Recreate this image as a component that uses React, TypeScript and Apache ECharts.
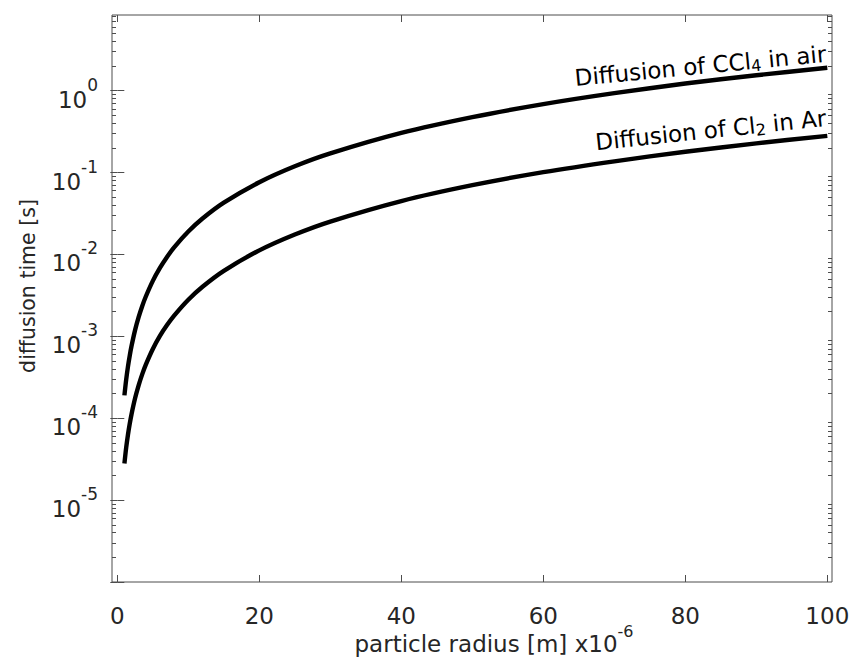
import React, { useEffect, useRef } from "react";
import * as echarts from "echarts";

// particle radius (x10^-6 m)
const radius = [1, 1.25, 1.5, 1.75, 2, 2.5, 3, 3.5, 4, 5, 6, 7, 8, 10, 12, 15, 20, 25, 30, 40, 50, 60, 70, 80, 90, 100];
// diffusion time [s]
const ccl4InAir = [1.9e-4, 2.97e-4, 4.28e-4, 5.82e-4, 7.6e-4, 1.19e-3, 1.71e-3, 2.33e-3, 3.04e-3, 4.75e-3, 6.84e-3, 9.31e-3, 1.22e-2, 1.9e-2, 2.74e-2, 4.28e-2, 7.6e-2, 0.119, 0.171, 0.304, 0.475, 0.684, 0.931, 1.22, 1.54, 1.9];
const cl2InAr = [2.8e-5, 4.38e-5, 6.3e-5, 8.58e-5, 1.12e-4, 1.75e-4, 2.52e-4, 3.43e-4, 4.48e-4, 7.0e-4, 1.01e-3, 1.37e-3, 1.79e-3, 2.8e-3, 4.03e-3, 6.3e-3, 1.12e-2, 1.75e-2, 2.52e-2, 4.48e-2, 7.0e-2, 0.101, 0.137, 0.179, 0.227, 0.28];

const xTicks = [0, 20, 40, 60, 80, 100];
const yMajorTicks = [1e-6, 1e-5, 1e-4, 1e-3, 1e-2, 1e-1, 1];
const yLabelTicks = [1e-5, 1e-4, 1e-3, 1e-2, 1e-1, 1];
const minorMultipliers = [2, 3, 4, 5, 6, 7, 8, 9];

const xTitleMain = "particle radius [m] x10";
const xTitleExp = "-6";

const X_MIN = -0.75;
const X_MAX = 100.66;
const Y_MIN = 1e-6;
const Y_MAX = 8.38;

const FONT = "DejaVu Sans, Liberation Sans, Arial, sans-serif";
const AXIS_COLOR = "#4d4d4d";
const TEXT_COLOR = "#262626";

function measure(text: string, size: number): number {
  const c = document.createElement("canvas").getContext("2d");
  if (!c) return text.length * size * 0.6;
  c.font = `${size}px "DejaVu Sans"`;
  return c.measureText(text).width;
}

export default function App() {
  const ref = useRef<HTMLDivElement>(null);
  useEffect(() => {
    if (!ref.current) return;
    const chart = echarts.init(ref.current, null, { renderer: "svg" });

    const yMinorTicks: number[] = [];
    yMajorTicks.forEach((d) => {
      minorMultipliers.forEach((m) => {
        const v = d * m;
        if (v > Y_MIN && v < Y_MAX) yMinorTicks.push(v);
      });
    });

    const tickLine = { color: AXIS_COLOR, width: 1 };

    const hiddenX = (position: string, ticks: number[]) => ({
      type: "value",
      position,
      min: X_MIN,
      max: X_MAX,
      axisLine: { show: false },
      splitLine: { show: false },
      axisLabel: { show: false },
      axisTick: { show: true, inside: true, length: 7, customValues: ticks, lineStyle: tickLine },
    });
    const hiddenY = (position: string, ticks: number[], len: number) => ({
      type: "log",
      position,
      min: Y_MIN,
      max: Y_MAX,
      axisLine: { show: false },
      splitLine: { show: false },
      axisLabel: { show: false },
      axisTick: { show: true, inside: true, length: len, customValues: ticks, lineStyle: tickLine },
    });

    const option: any = {
      animation: false,
      backgroundColor: "#ffffff",
      grid: {
        left: 112,
        top: 15,
        right: 18,
        bottom: 78,
        containLabel: false,
        outerBoundsMode: "none",
        show: true,
        borderColor: AXIS_COLOR,
        borderWidth: 1,
        backgroundColor: "transparent",
      },
      xAxis: [
        {
          type: "value",
          position: "bottom",
          min: X_MIN,
          max: X_MAX,
          axisLine: { show: false },
          axisTick: { show: true, inside: true, length: 7, customValues: xTicks, lineStyle: tickLine },
          splitLine: { show: false },
          axisLabel: {
            customValues: xTicks,
            margin: 22,
            color: TEXT_COLOR,
            fontSize: 23,
            fontFamily: FONT,
          },
        },
        hiddenX("top", xTicks),
      ],
      yAxis: [
        {
          type: "log",
          position: "left",
          min: Y_MIN,
          max: Y_MAX,
          axisLine: { show: false },
          axisTick: { show: true, inside: true, length: 7, customValues: yMajorTicks, lineStyle: tickLine },
          splitLine: { show: false },
          axisLabel: {
            customValues: yLabelTicks,
            margin: 14,
            color: TEXT_COLOR,
            fontFamily: FONT,
            formatter: (v: number) => {
              const e = Math.round(Math.log10(v));
              return "{b|10}{s|" + e + "}";
            },
            rich: {
              b: { fontSize: 23, fontFamily: FONT, color: TEXT_COLOR, lineHeight: 24, padding: [18, 0, 0, 0] },
              s: { fontSize: 17, fontFamily: FONT, color: TEXT_COLOR, lineHeight: 17, padding: [0, 0, 12, 0] },
            },
          },
          name: "diffusion time [s]",
          nameLocation: "middle",
          nameGap: 74,
          nameTextStyle: { color: TEXT_COLOR, fontFamily: FONT, fontSize: 20.5, padding: [0, 0, 0, 25] },
        },
        hiddenY("right", yMajorTicks, 7),
        hiddenY("left", yMinorTicks, 4),
        hiddenY("right", yMinorTicks, 4),
      ],
      series: [
        {
          name: "Diffusion of CCl4 in air",
          type: "line",
          xAxisIndex: 0,
          yAxisIndex: 0,
          data: radius.map((r, i) => [r, ccl4InAir[i]]),
          showSymbol: false,
          smooth: 0.3,
          lineStyle: { color: "#000000", width: 4.4, cap: "butt" },
          z: 3,
        },
        {
          name: "Diffusion of Cl2 in Ar",
          type: "line",
          xAxisIndex: 0,
          yAxisIndex: 0,
          data: radius.map((r, i) => [r, cl2InAr[i]]),
          showSymbol: false,
          smooth: 0.3,
          lineStyle: { color: "#000000", width: 4.4, cap: "butt" },
          z: 3,
        },
      ],
    };
    chart.setOption(option);

    const last = radius.length - 1;
    const p1 = chart.convertToPixel({ xAxisIndex: 0, yAxisIndex: 0 }, [radius[last], ccl4InAir[last]]) as number[];
    const p2 = chart.convertToPixel({ xAxisIndex: 0, yAxisIndex: 0 }, [radius[last], cl2InAr[last]]) as number[];
    const bottomLeft = chart.convertToPixel({ xAxisIndex: 0, yAxisIndex: 0 }, [(X_MIN + X_MAX) / 2, Y_MIN]) as number[];

    // x-axis title (main text + raised exponent)
    const wMain = measure(xTitleMain, 23);
    const wExp = measure(xTitleExp, 16);
    const titleCenterX = bottomLeft[0] + 22;
    const titleLeft = titleCenterX - (wMain + wExp) / 2;
    const titleMidY = bottomLeft[1] + 62;

    const annStyle = (txt: string) => ({
      text: txt,
      fontSize: 23,
      fontFamily: FONT,
      fill: "#000000",
      align: "right",
      verticalAlign: "bottom",
      rich: {
        n: { fontSize: 23, fontFamily: FONT, fill: "#000000", lineHeight: 26 },
        sub: { fontSize: 16, fontFamily: FONT, fill: "#000000", lineHeight: 16, verticalAlign: "bottom" },
      },
    });
    chart.setOption({
      graphic: [
        {
          type: "text",
          x: p1[0],
          y: p1[1] - 1,
          rotation: (5.5 * Math.PI) / 180,
          z: 10,
          style: annStyle("{n|Diffusion of CCl}{sub|4}{n| in air}"),
        },
        {
          type: "text",
          x: p2[0],
          y: p2[1] - 5,
          rotation: (6 * Math.PI) / 180,
          z: 10,
          style: annStyle("{n|Diffusion of Cl}{sub|2}{n| in Ar}"),
        },
        {
          type: "text",
          x: titleLeft,
          y: titleMidY,
          z: 10,
          style: {
            text: xTitleMain,
            fontSize: 23,
            fontFamily: FONT,
            fill: TEXT_COLOR,
            align: "left",
            verticalAlign: "middle",
          },
        },
        {
          type: "text",
          x: titleLeft + wMain,
          y: titleMidY - 13,
          z: 10,
          style: {
            text: xTitleExp,
            fontSize: 16,
            fontFamily: FONT,
            fill: TEXT_COLOR,
            align: "left",
            verticalAlign: "middle",
          },
        },
      ],
    });

    return () => chart.dispose();
  }, []);
  return (
    <div
      ref={ref}
      style={{ position: "fixed", left: 0, top: 0, width: 850, height: 660, background: "#fff" }}
    />
  );
}
